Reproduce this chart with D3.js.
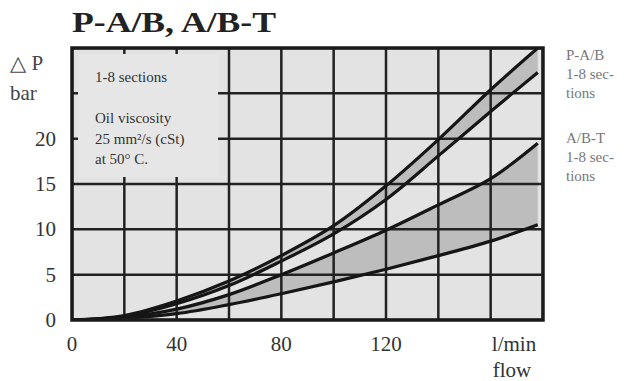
<!DOCTYPE html>
<html>
<head>
<meta charset="utf-8">
<script src="https://cdn.jsdelivr.net/npm/d3@7"></script>
<style>
    body { margin: 0; background: #fff; }
    svg { display: block; font-family: "Liberation Serif", "DejaVu Serif", serif; }
</style>
</head>
<body>
<svg id="chart" width="630" height="381"></svg>
<script>
'use strict';

// flow (l/min) and pressure drop (bar)
const flow = [0, 20, 40, 60, 80, 100, 120, 140, 160, 178];
const pabUpper = [0, 0.5, 2.1, 4.3, 7.1, 10.4, 14.8, 19.9, 25.4, 30];
const pabLower = [0, 0.4, 1.8, 3.8, 6.5, 9.5, 13.3, 18.1, 23.0, 27.3];
const abtUpper = [0, 0.3, 1.2, 2.8, 5.0, 7.4, 9.9, 12.7, 15.6, 19.5];
const abtLower = [0, 0.2, 0.7, 1.7, 2.9, 4.2, 5.6, 7.1, 8.7, 10.5];

const xGrid = [0, 20, 40, 60, 80, 100, 120, 140, 160, 180];
const yGrid = [0, 5, 10, 15, 20, 25, 30];
const xTicks = [0, 40, 80, 120];
const yTicks = [0, 5, 10, 15, 20];

const boxLines = ["1-8 sections", "", "Oil viscosity", "25 mm²/s (cSt)", "at 50° C."];
const rightLabels = [["P-A/B", "1-8 sec-", "tions"], ["A/B-T", "1-8 sec-", "tions"]];

const svg = d3.select("#chart");

const x = d3.scaleLinear().domain([0, 180]).range([72, 543]);
const y = d3.scaleLinear().domain([0, 30]).range([320, 48]);

// plot background
svg.append("rect")
    .attr("x", x(0)).attr("y", y(30))
    .attr("width", x(180) - x(0)).attr("height", y(0) - y(30))
    .attr("fill", "#e3e3e3");

svg.append("clipPath").attr("id", "plot-clip")
    .append("rect")
    .attr("x", x(0)).attr("y", y(30))
    .attr("width", x(180) - x(0)).attr("height", y(0) - y(30));

const plot = svg.append("g").attr("clip-path", "url(#plot-clip)");

// shaded bands between the curves of each group
const band = (lower, upper) => d3.area()
    .x((d, i) => x(flow[i]))
    .y0((d, i) => y(lower[i]))
    .y1((d, i) => y(upper[i]))
    .curve(d3.curveCatmullRom)(flow);

plot.append("path").attr("d", band(pabLower, pabUpper)).attr("fill", "#bdbdbd");
plot.append("path").attr("d", band(abtLower, abtUpper)).attr("fill", "#bdbdbd");

// grid
plot.selectAll(".vgrid").data(xGrid).join("line")
    .attr("x1", d => x(d)).attr("x2", d => x(d))
    .attr("y1", y(0)).attr("y2", y(30))
    .attr("stroke", "#222").attr("stroke-width", 2.5);
plot.selectAll(".hgrid").data(yGrid).join("line")
    .attr("x1", x(0)).attr("x2", x(180))
    .attr("y1", d => y(d)).attr("y2", d => y(d))
    .attr("stroke", "#222").attr("stroke-width", 2.5);

// note box in the upper left corner, hides the grid but leaves small stubs
svg.append("rect")
    .attr("x", 78).attr("y", 54)
    .attr("width", 140).attr("height", 123)
    .attr("fill", "#e6e6e6");

boxLines.forEach((t, i) => {
    svg.append("text")
        .attr("x", 95).attr("y", 82 + i * 20.5)
        .attr("font-size", 15)
        .attr("fill", "#333")
        .text(t);
});

// curves
const line = values => d3.line()
    .x((d, i) => x(flow[i]))
    .y((d, i) => y(values[i]))
    .curve(d3.curveCatmullRom)(flow);

[pabUpper, pabLower, abtUpper, abtLower].forEach(values => {
    plot.append("path")
        .attr("d", line(values))
        .attr("fill", "none")
        .attr("stroke", "#161616")
        .attr("stroke-width", 3.2);
});

// border
svg.append("rect")
    .attr("x", x(0)).attr("y", y(30))
    .attr("width", x(180) - x(0)).attr("height", y(0) - y(30))
    .attr("fill", "none")
    .attr("stroke", "#1a1a1a")
    .attr("stroke-width", 3.5);

// title
svg.append("text")
    .attr("x", 72).attr("y", 32)
    .attr("font-size", 30).attr("font-weight", "bold")
    .attr("fill", "#222")
    .attr("textLength", 204).attr("lengthAdjust", "spacingAndGlyphs")
    .text("P-A/B, A/B-T");

// y axis
svg.selectAll(".ylab").data(yTicks).join("text")
    .attr("x", 56).attr("y", d => y(d) + 7)
    .attr("text-anchor", "end")
    .attr("font-size", 21)
    .attr("fill", "#333")
    .text(d => d);

svg.append("text").attr("x", 10).attr("y", 70)
    .attr("font-size", 21).attr("fill", "#444")
    .text("△ P");
svg.append("text").attr("x", 10).attr("y", 100)
    .attr("font-size", 21).attr("fill", "#444")
    .text("bar");

// x axis
svg.selectAll(".xlab").data(xTicks).join("text")
    .attr("x", d => x(d)).attr("y", 351)
    .attr("text-anchor", "middle")
    .attr("font-size", 21)
    .attr("fill", "#333")
    .text(d => d);

svg.append("text").attr("x", 514).attr("y", 351)
    .attr("text-anchor", "middle")
    .attr("font-size", 21).attr("fill", "#333")
    .text("l/min");
svg.append("text").attr("x", 512).attr("y", 377)
    .attr("text-anchor", "middle")
    .attr("font-size", 21).attr("fill", "#333")
    .text("flow");

// labels on the right of the curves
rightLabels.forEach((group, g) => {
    group.forEach((t, i) => {
        svg.append("text")
            .attr("x", 566).attr("y", 60 + g * 83 + i * 19)
            .attr("font-size", 15)
            .attr("fill", "#777")
            .text(t);
    });
});
</script>
</body>
</html>
